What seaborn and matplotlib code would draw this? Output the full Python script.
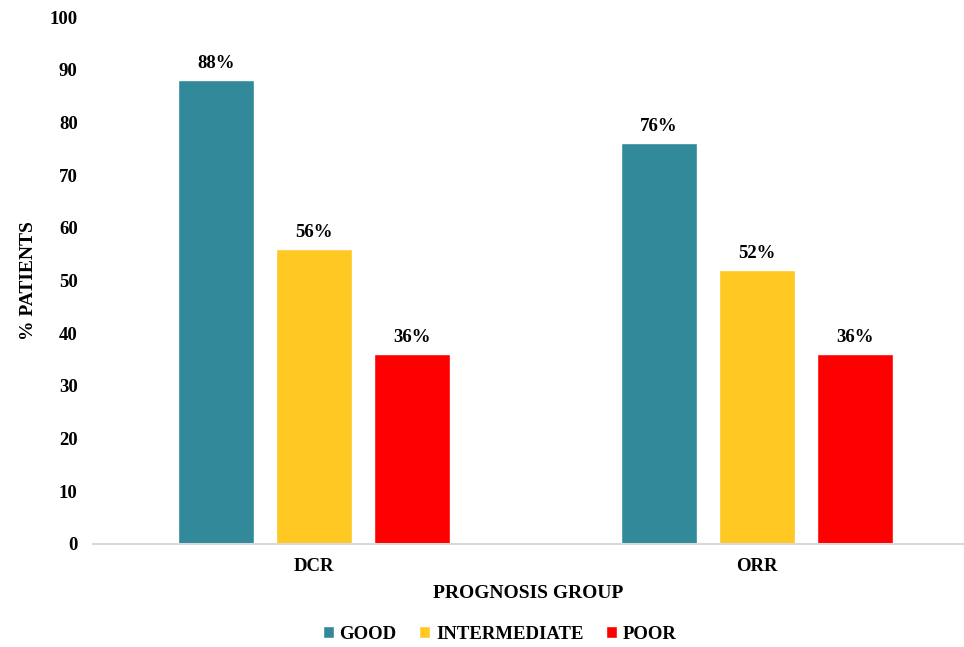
import matplotlib
matplotlib.use("Agg")
import matplotlib.pyplot as plt
import seaborn as sns
import pandas as pd

# Response rates by prognosis group
metrics = ["DCR", "ORR"]
groups = ["GOOD", "INTERMEDIATE", "POOR"]
good = [88, 76]
intermediate = [56, 52]
poor = [36, 36]
colors = ["#31899A", "#FFC822", "#FF0000"]
y_ticks = [0, 10, 20, 30, 40, 50, 60, 70, 80, 90, 100]

rows = []
for g, vals in zip(groups, [good, intermediate, poor]):
    for m, v in zip(metrics, vals):
        rows.append({"metric": m, "group": g, "value": v})
df = pd.DataFrame(rows)

sns.set_theme(style="white")
plt.rcParams["font.family"] = ["Liberation Serif", "DejaVu Serif"]
plt.rcParams["font.weight"] = "bold"
plt.rcParams["text.color"] = "black"
plt.rcParams["xtick.color"] = "black"
plt.rcParams["ytick.color"] = "black"
plt.rcParams["axes.labelcolor"] = "black"

fig = plt.figure(figsize=(9.64, 6.47), dpi=100)
ax = fig.add_axes([0.0965, 0.1592, 0.9035, 0.8145])

sns.barplot(data=df, x="metric", y="value", hue="group", order=metrics,
            hue_order=groups, palette=colors, width=0.665, gap=0.224,
            saturation=1, ax=ax, legend=True)

for container in ax.containers:
    labels = [f"{int(round(b.get_height()))}%" for b in container]
    ax.bar_label(container, labels=labels, padding=6, fontsize=13.5,
                 fontweight="bold", color="black")

ax.set_xlim(-0.5, 1.468)
ax.set_ylim(0, 100)
ax.set_yticks(y_ticks)
ax.tick_params(axis="y", length=0, pad=11, labelsize=13.5)
ax.tick_params(axis="x", length=0, pad=10, labelsize=13.5)
for lbl in ax.get_xticklabels() + ax.get_yticklabels():
    lbl.set_fontweight("bold")

for side in ["left", "right", "top"]:
    ax.spines[side].set_visible(False)
ax.spines["bottom"].set_color("#D9D9D9")
ax.spines["bottom"].set_linewidth(1.5)

ax.set_xlabel("PROGNOSIS GROUP", fontsize=14, fontweight="bold", labelpad=7)
ax.set_ylabel("% PATIENTS", fontsize=14, fontweight="bold", labelpad=9)

ax.legend(loc="center", bbox_to_anchor=(0.467, -0.1708), ncol=3,
          frameon=False, prop={"size": 13.5, "weight": "bold"},
          handlelength=0.6, handleheight=0.6, handletextpad=0.3,
          columnspacing=1.2, borderpad=0.0)

fig.savefig("out.png", dpi=100)
